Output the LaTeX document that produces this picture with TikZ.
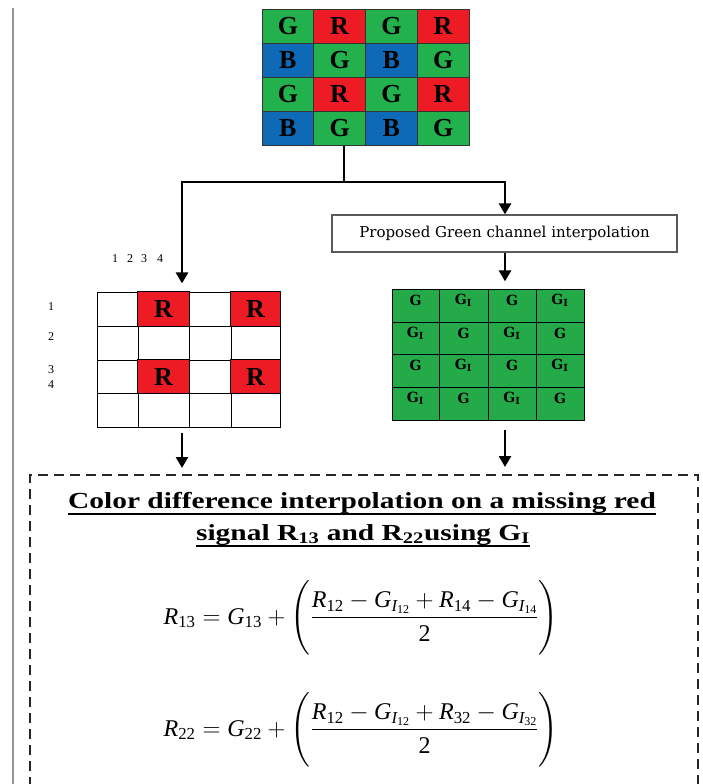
\documentclass[tikz,border=0pt]{standalone}
\usepackage{amsmath}
\usepackage{fontspec}
\setmainfont{Liberation Serif}
\newfontfamily\boxfont{DejaVu Serif}
\newfontfamily\widefont[FakeStretch=1.28]{Liberation Serif}
\usepackage{tikz}
\usetikzlibrary{
  arrows.meta,
  positioning,
  fit,
  calc
}
\definecolor{bayerG}{RGB}{34,177,76}
\definecolor{bayerR}{RGB}{237,28,36}
\definecolor{bayerB}{RGB}{14,106,182}
\definecolor{InterpGreen}{RGB}{36,170,72}
\definecolor{FrameGray}{RGB}{150,150,150}
\definecolor{BoxGray}{RGB}{90,90,90}
\newcommand{\vi}[1]{\textit{#1}}
\newcommand{\vn}[1]{\textrm{#1}}
\newcommand{\tallparen}{\rule[-1.3em]{0pt}{2.6em}}
\tikzset{
  baycell/.style={
    draw=black!80,
    line width=0.8pt,
    minimum width=51.75pt,
    minimum height=34pt,
    inner sep=0pt,
    font=\fontsize{26}{26}\selectfont\bfseries
  },
  gridcell/.style={draw=black,line width=0.8pt,inner sep=0pt},
  rlet/.style={font=\fontsize{26}{26}\selectfont\bfseries},
  glet/.style={font=\boxfont\fontsize{14}{14}\selectfont\bfseries},
  idx/.style={font=\fontsize{12}{12}\selectfont},
  stepbox/.style={
    draw=BoxGray,
    line width=1.2pt,
    minimum width=345pt,
    minimum height=37pt,
    font=\boxfont\fontsize{15}{15}\selectfont
  },
  titleline/.style={font=\widefont\fontsize{23}{23}\selectfont\bfseries,anchor=base,inner xsep=0pt},
  equline/.style={font=\fontsize{24}{28}\selectfont},
  flow/.style={-{Triangle[length=11pt,width=12pt]},line width=2.6pt},
  flowline/.style={line width=2.6pt},
  resultbox/.style={draw=black!85,dash pattern=on 10pt off 6pt,line width=1.5pt}
}

\begin{document}
\begin{tikzpicture}[x=1pt,y=-1pt]
  \useasboundingbox (0,0) rectangle (703,784);
  \draw[FrameGray,line width=1.5pt] (13,8) -- (13,784);

  % Bayer pattern
  \foreach \r/\row in {1/{G,R,G,R},2/{B,G,B,G},3/{G,R,G,R},4/{B,G,B,G}}
    \foreach \txt [count=\c] in \row
      \node[baycell,fill=bayer\txt] (b\r\c) at ({262+51.75*(\c-0.5)},{9+34*(\r-0.5)}) {\txt};
  \node[fit=(b11)(b44),inner sep=0pt] (bayer) {};

  % red samples only
  \foreach \r/\ya/\yb in {1/292/326,2/326/360,3/360/393,4/393/427}
    \foreach \c/\xa/\xb in {1/97/138,2/138/189,3/189/231,4/231/280}
      \node[gridcell,minimum width={(\xb-\xa)*1pt},minimum height={(\yb-\ya)*1pt}]
        (rc\r\c) at ({(\xa+\xb)/2},{(\ya+\yb)/2}) {};
  \foreach \r/\c in {1/2,1/4,3/2,3/4}{
    \draw[line width=0.8pt,fill=bayerR] (rc\r\c.south west) rectangle (rc\r\c.north east);
    \node[rlet] (rl\r\c) at (rc\r\c) {R};
  }
  \node[fit=(rc11)(rc44),inner sep=0pt] (redgrid) {};

  \foreach \n/\xx in {1/115,2/130,3/144,4/160}
    \node[idx] (col\n) at (\xx,259) {\n};
  \foreach \n/\yy in {1/307,2/337,3/370,4/385}
    \node[idx] (row\n) at (51,\yy) {\n};

  % interpolated green plane
  \node[stepbox] (propbox) at (504.5,233.5) {Proposed Green channel interpolation};
  \foreach \r/\ya/\yb in {1/289/322,2/322/354,3/354/387,4/387/420}
    \foreach \c/\xa/\xb in {1/392/439,2/439/488,3/488/536,4/536/584}{
      \node[gridcell,fill=InterpGreen,minimum width={(\xb-\xa)*1pt},minimum height={(\yb-\ya)*1pt}]
        (gc\r\c) at ({(\xa+\xb)/2},{(\ya+\yb)/2}) {};
      \pgfmathtruncatemacro\odd{mod(\r+\c,2)}
      \node[glet] (gl\r\c) at ([yshift=5pt]gc\r\c.center)
        {\ifnum\odd=1 G\textsubscript{I}\else G\fi};
    }
  \node[fit=(gc11)(gc44),inner sep=0pt] (greengrid) {};

  % result
  \node[resultbox,anchor=north west,minimum width=668pt,minimum height=330pt] (result) at (29,474) {};
  \node[titleline] (title1) at (362,508) {Color difference interpolation on a missing red};
  \node[titleline] (title2) at (363,540) {signal R\textsubscript{13} and R\textsubscript{22}using G\textsubscript{I}};
  \draw[line width=1.3pt] ([yshift=-6pt]title1.base west) -- ([yshift=-6pt]title1.base east);
  \draw[line width=1.3pt] ([yshift=-6pt]title2.base west) -- ([yshift=-6pt]title2.base east);
  \node[equline] (eqa) at (361,618)
    {$\displaystyle \vi{R}_{\vn{13}}=\vi{G}_{\vn{13}}+\left(\tallparen\frac{\vi{R}_{\vn{12}}-\vi{G}_{\vi{I}_{\vn{12}}}+\vi{R}_{\vn{14}}-\vi{G}_{\vi{I}_{\vn{14}}}}{\vn{2}}\right)$};
  \node[equline] (eqb) at (361,730)
    {$\displaystyle \vi{R}_{\vn{22}}=\vi{G}_{\vn{22}}+\left(\tallparen\frac{\vi{R}_{\vn{12}}-\vi{G}_{\vi{I}_{\vn{12}}}+\vi{R}_{\vn{32}}-\vi{G}_{\vi{I}_{\vn{32}}}}{\vn{2}}\right)$};

  \coordinate (branch) at (344,182);
  \coordinate (lx) at (182,182);
  \coordinate (rx) at (505,182);
  \draw[flowline] (bayer.south -| branch) -- (branch);
  \draw[flow,shorten >=8pt] (branch) -- (lx) -- (redgrid.north -| lx);
  \draw[flow] (branch) -- (rx) -- (propbox.north -| rx);
  \draw[flow,shorten >=7pt] (propbox.south -| rx) -- (greengrid.north -| rx);
  \draw[flow,shorten <=5pt,shorten >=6pt] (redgrid.south -| lx) -- (result.north -| lx);
  \draw[flow,shorten <=9pt,shorten >=7pt] (greengrid.south -| rx) -- (result.north -| rx);
\end{tikzpicture}
\end{document}
